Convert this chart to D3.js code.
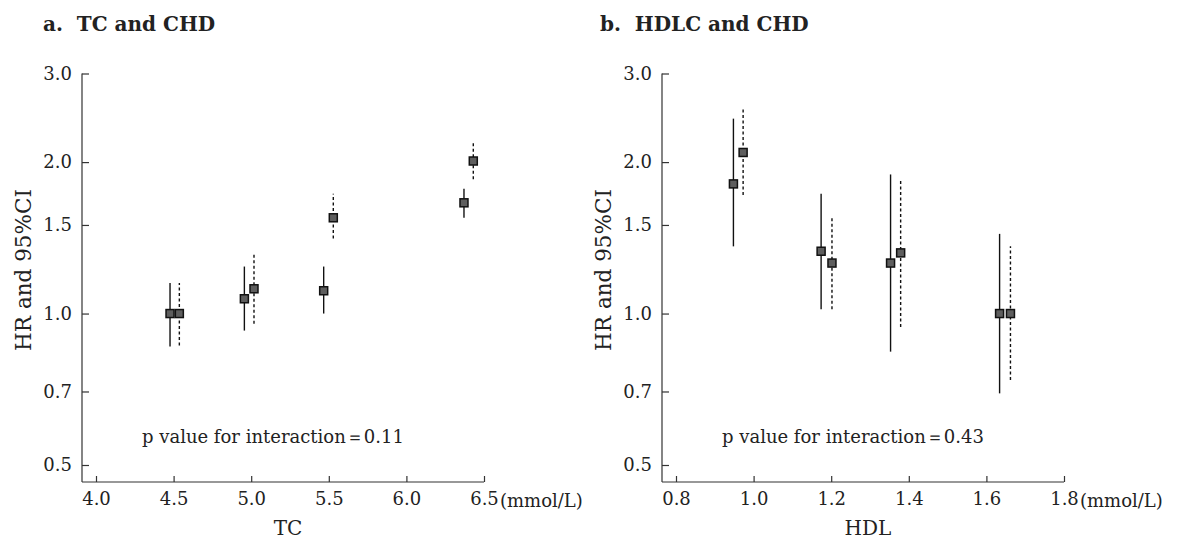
<!DOCTYPE html>
<html>
<head>
<meta charset="utf-8">
<script src="https://cdn.jsdelivr.net/npm/d3@7"></script>
<style>
  body { margin: 0; background: #fff; }
</style>
</head>
<body>
<script>
// y axis (log scale) shared by both panels
const hr_ticks = [0.5, 0.7, 1.0, 1.5, 2.0, 3.0];

// panel a: TC and CHD
const tc_ticks = [4.0, 4.5, 5.0, 5.5, 6.0, 6.5];
const tc_solid_x = [4.477, 4.956, 5.467, 6.371];
const tc_solid_hr = [1.0, 1.07, 1.11, 1.66];
const tc_solid_lo = [0.86, 0.925, 1.0, 1.55];
const tc_solid_hi = [1.15, 1.24, 1.24, 1.77];
const tc_dash_x = [4.537, 5.018, 5.529, 6.431];
const tc_dash_hr = [1.0, 1.12, 1.55, 2.01];
const tc_dash_lo = [0.864, 0.954, 1.41, 1.85];
const tc_dash_hi = [1.15, 1.31, 1.73, 2.2];

// panel b: HDLC and CHD
const hdl_ticks = [0.8, 1.0, 1.2, 1.4, 1.6, 1.8];
const hdl_solid_x = [0.948, 1.174, 1.353, 1.634];
const hdl_solid_hr = [1.81, 1.33, 1.26, 1.0];
const hdl_solid_lo = [1.36, 1.02, 0.84, 0.694];
const hdl_solid_hi = [2.44, 1.73, 1.89, 1.44];
const hdl_dash_x = [0.973, 1.202, 1.379, 1.662];
const hdl_dash_hr = [2.09, 1.26, 1.32, 1.0];
const hdl_dash_lo = [1.72, 1.02, 0.94, 0.738];
const hdl_dash_hi = [2.57, 1.56, 1.84, 1.36];

const SERIF = "'DejaVu Serif', serif";

const svg = d3.select("body").append("svg")
  .attr("width", 1185)
  .attr("height", 541)
  .style("font-family", SERIF);

function zip(x, hr, lo, hi) {
  return x.map((v, i) => ({ x: v, hr: hr[i], lo: lo[i], hi: hi[i] }));
}

const panels = [
  {
    dx: 0,
    title: "a.  TC and CHD",
    ticks: tc_ticks,
    x_label: "TC",
    p_text: "p value for interaction\uFF1D0.11",
    solid: zip(tc_solid_x, tc_solid_hr, tc_solid_lo, tc_solid_hi),
    dash: zip(tc_dash_x, tc_dash_hr, tc_dash_lo, tc_dash_hi),
  },
  {
    dx: 580,
    title: "b.  HDLC and CHD",
    ticks: hdl_ticks,
    x_label: "HDL",
    p_text: "p value for interaction\uFF1D0.43",
    solid: zip(hdl_solid_x, hdl_solid_hr, hdl_solid_lo, hdl_solid_hi),
    dash: zip(hdl_dash_x, hdl_dash_hr, hdl_dash_lo, hdl_dash_hi),
  },
];

const AXIS_X = 82;
const AXIS_Y = 482;
const TICK_FONT = 18;

function style_axis(sel) {
  sel.attr("font-family", null).attr("font-size", null);
  sel.select(".domain").remove();
  sel.selectAll(".tick line").style("stroke", "#333").style("stroke-width", 1.2);
  sel.selectAll(".tick text")
    .style("font-family", SERIF)
    .style("font-size", TICK_FONT + "px")
    .attr("fill", "#222");
}

panels.forEach((p) => {
  let g = svg.append("g").attr("transform", `translate(${p.dx},0)`);

  let x = d3.scaleLinear()
    .domain([p.ticks[0], p.ticks[p.ticks.length - 1]])
    .range([96, 484]);
  let y = d3.scaleLog()
    .domain([0.5, 3.0])
    .range([465, 73.5]);

  // Title
  g.append("text")
    .attr("x", p.dx === 0 ? 43 : 20)
    .attr("y", 31)
    .style("font-size", "20px")
    .style("font-weight", "bold")
    .attr("fill", "#222")
    .attr("xml:space", "preserve")
    .text(p.title);

  // Axis lines
  g.append("line")
    .attr("x1", AXIS_X).attr("y1", y(3.0))
    .attr("x2", AXIS_X).attr("y2", AXIS_Y)
    .style("stroke", "#333").style("stroke-width", 1.2);
  g.append("line")
    .attr("x1", AXIS_X).attr("y1", AXIS_Y)
    .attr("x2", x.range()[1]).attr("y2", AXIS_Y)
    .style("stroke", "#333").style("stroke-width", 1.2);

  // Y axis, ticks pointing inward
  g.append("g")
    .attr("transform", `translate(${AXIS_X},0)`)
    .call(d3.axisLeft(y)
      .tickValues(hr_ticks)
      .tickFormat(d3.format(".1f"))
      .tickSizeInner(-7)
      .tickSizeOuter(0)
      .tickPadding(10))
    .call(style_axis);

  // X axis, ticks pointing inward
  g.append("g")
    .attr("transform", `translate(0,${AXIS_Y})`)
    .call(d3.axisBottom(x)
      .tickValues(p.ticks)
      .tickFormat(d3.format(".1f"))
      .tickSizeInner(-6)
      .tickSizeOuter(0)
      .tickPadding(10))
    .call(style_axis);

  // Unit after last tick label
  g.append("text")
    .attr("x", x.range()[1] + 16)
    .attr("y", 507)
    .style("font-size", "18px")
    .attr("fill", "#222")
    .text("(mmol/L)");

  // Axis titles
  g.append("text")
    .attr("x", (AXIS_X + x.range()[1]) / 2 + 5)
    .attr("y", 535)
    .attr("text-anchor", "middle")
    .style("font-size", "20px")
    .attr("fill", "#222")
    .text(p.x_label);
  g.append("text")
    .attr("transform", `translate(31,${270}) rotate(-90)`)
    .attr("text-anchor", "middle")
    .style("font-size", "21.5px")
    .attr("fill", "#222")
    .text("HR and 95%CI");

  // p value note
  g.append("text")
    .attr("x", 142)
    .attr("y", 443)
    .style("font-size", "18px")
    .attr("fill", "#222")
    .text(p.p_text);

  // Confidence intervals
  g.selectAll(".ci-solid")
    .data(p.solid)
    .enter()
    .append("line")
    .attr("class", "ci-solid")
    .attr("x1", (d) => x(d.x)).attr("x2", (d) => x(d.x))
    .attr("y1", (d) => y(d.lo)).attr("y2", (d) => y(d.hi))
    .style("stroke", "#111")
    .style("stroke-width", 1.4);
  g.selectAll(".ci-dash")
    .data(p.dash)
    .enter()
    .append("line")
    .attr("class", "ci-dash")
    .attr("x1", (d) => x(d.x)).attr("x2", (d) => x(d.x))
    .attr("y1", (d) => y(d.lo)).attr("y2", (d) => y(d.hi))
    .style("stroke", "#111")
    .style("stroke-width", 1.4)
    .style("stroke-dasharray", "3,2.5");

  // Point estimates
  let sq = 8;
  g.selectAll(".pt")
    .data(p.solid.concat(p.dash))
    .enter()
    .append("rect")
    .attr("class", "pt")
    .attr("x", (d) => x(d.x) - sq / 2)
    .attr("y", (d) => y(d.hr) - sq / 2)
    .attr("width", sq)
    .attr("height", sq)
    .style("fill", "#5e5e5e")
    .style("stroke", "#111")
    .style("stroke-width", 1.5);
});
</script>
</body>
</html>
